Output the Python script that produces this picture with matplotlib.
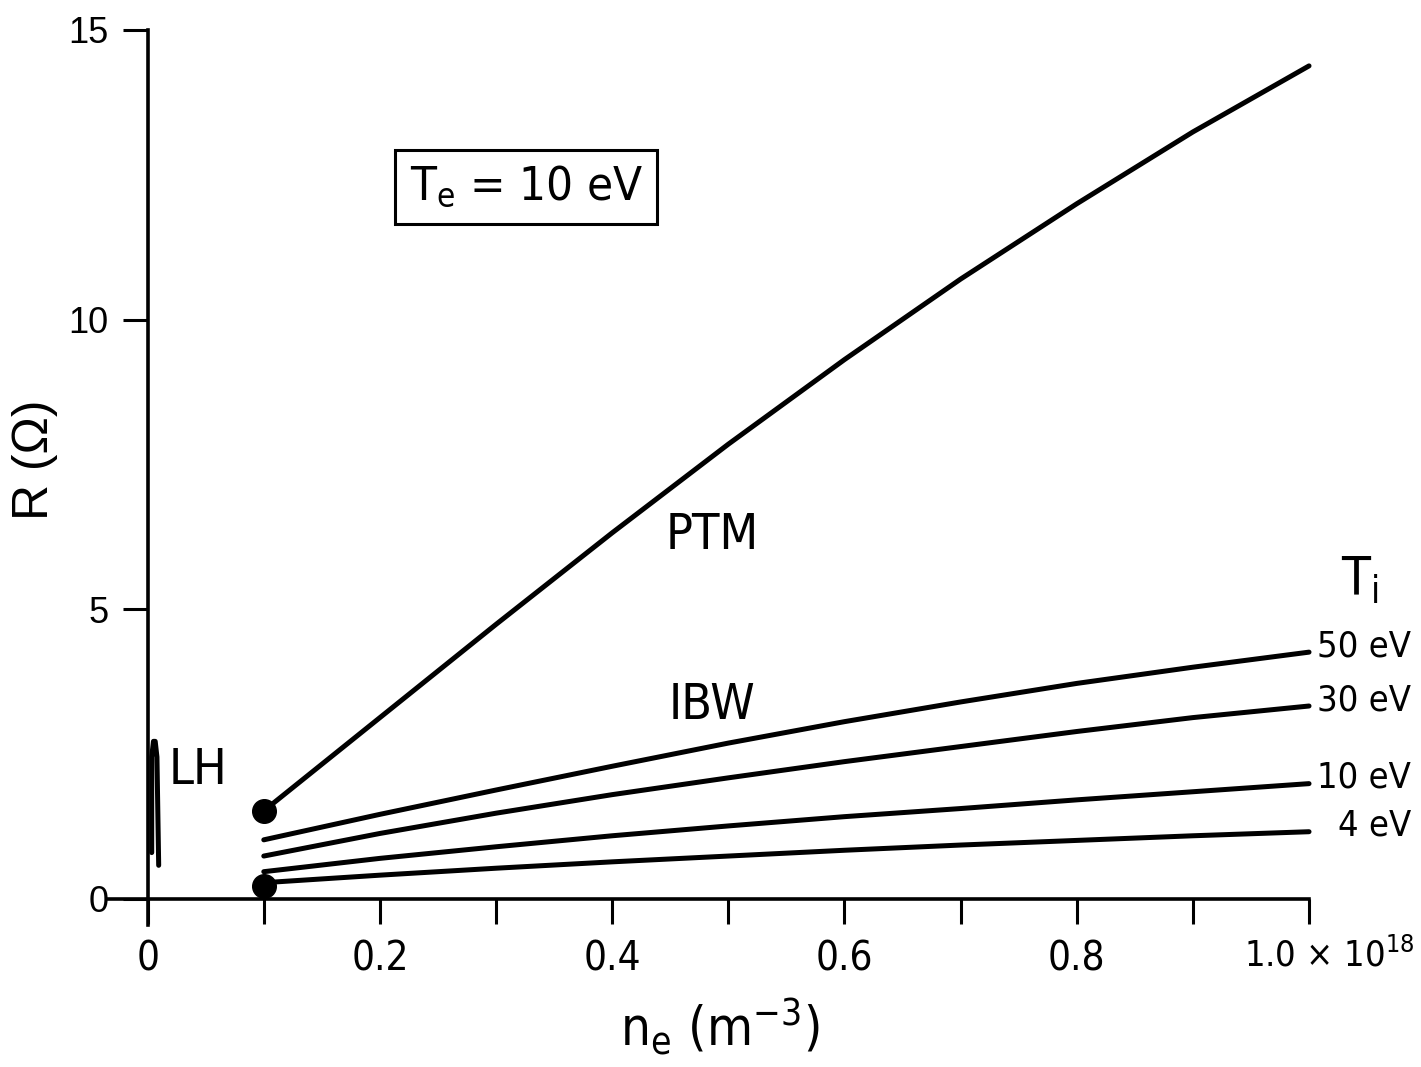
import matplotlib
matplotlib.use("Agg")
import matplotlib.pyplot as plt
import matplotlib.transforms as mtransforms

plt.rcParams['font.family'] = ['DejaVu Sans']
plt.rcParams['font.stretch'] = 'condensed'
plt.rcParams['mathtext.default'] = 'regular'

# values (n_e in 1e18 m^-3, R in ohm)
ne = [0.1, 0.2, 0.3, 0.4, 0.5, 0.6, 0.7, 0.8, 0.9, 1.0]
ptm = [1.52, 3.13, 4.74, 6.32, 7.85, 9.31, 10.70, 12.00, 13.24, 14.38]
ibw_50 = [1.02, 1.46, 1.88, 2.29, 2.69, 3.06, 3.40, 3.72, 4.00, 4.26]
ibw_30 = [0.74, 1.13, 1.48, 1.80, 2.09, 2.37, 2.63, 2.89, 3.13, 3.33]
ibw_10 = [0.47, 0.70, 0.90, 1.09, 1.26, 1.42, 1.56, 1.71, 1.85, 1.99]
ibw_4 = [0.28, 0.41, 0.53, 0.64, 0.74, 0.84, 0.93, 1.01, 1.09, 1.16]
ti_labels = ["50 eV", "30 eV", "10 eV", "4 eV"]

lh_x = [0.0035, 0.0035, 0.005, 0.0065, 0.008, 0.0095]
lh_y = [0.80, 2.45, 2.72, 2.72, 2.45, 0.58]

dot_x = [0.1, 0.1]
dot_y = [1.52, 0.22]

xticks = [0, 0.1, 0.2, 0.3, 0.4, 0.5, 0.6, 0.7, 0.8, 0.9, 1.0]
xticklabels = ["0", "", "0.2", "", "0.4", "", "0.6", "", "0.8", "", ""]
yticks = [0, 5, 10, 15]

fig = plt.figure(figsize=(14.21, 10.67), dpi=100)
ax = fig.add_axes([0.0753, 0.1331, 0.8459, 0.8388])
ax.set_xlim(-0.035, 1.0)
ax.set_ylim(-0.45, 15)

lw = 3.6
ax.plot(ne, ptm, color='black', lw=lw, solid_capstyle='round', clip_on=False)
for ys in [ibw_50, ibw_30, ibw_10, ibw_4]:
    ax.plot(ne, ys, color='black', lw=lw, solid_capstyle='round', clip_on=False)
ax.plot(lh_x, lh_y, color='black', lw=3.6, solid_capstyle='round', solid_joinstyle='round')
ax.plot(dot_x, dot_y, 'o', color='black', markersize=17, clip_on=False)

for s in ['top', 'right']:
    ax.spines[s].set_visible(False)
ax.spines['left'].set_position(('data', 0))
ax.spines['bottom'].set_position(('data', 0))
ax.spines['left'].set_bounds(-0.45, 15)
ax.spines['bottom'].set_bounds(-0.035, 1.0)
for s in ['left', 'bottom']:
    ax.spines[s].set_linewidth(2.6)

ax.set_xticks(xticks)
ax.set_xticklabels(xticklabels)
ax.set_yticks(yticks)
ax.set_yticklabels([str(v) for v in yticks], family='Liberation Sans', stretch='normal')
ax.tick_params(axis='x', direction='out', length=18, width=2.2, pad=11, labelsize=29)
ax.tick_params(axis='y', direction='out', length=18, width=2.2, pad=10, labelsize=26)

# "1.0 x 10^18" at the last tick
trans = mtransforms.blended_transform_factory(ax.transData, ax.transAxes)
ax.text(0.944, -0.034, "1.0 \u00d7 10$^{18}$", transform=trans, ha='left', va='center',
        fontsize=26, clip_on=False)

ax.set_xlabel("n$_e$ (m$^{-3}$)", fontsize=38, va='center')
ax.xaxis.set_label_coords(0.51, -0.112)
ax.set_ylabel("R (\u03a9)", fontsize=36, va='center', family='Liberation Sans', stretch='normal')
ax.yaxis.set_label_coords(-0.06, 0.52)

ax.text(0.486, 6.28, "PTM", fontsize=36, ha='center', va='center')
ax.text(0.486, 3.35, "IBW", fontsize=36, ha='center', va='center')
ax.text(0.043, 2.23, "LH", fontsize=36, ha='center', va='center')
ax.text(0.326, 12.29, "T$_e$ = 10 eV", fontsize=34, ha='center', va='center',
        bbox=dict(boxstyle='square,pad=0.3', facecolor='white', edgecolor='black', linewidth=2.2))

ax.text(1.044, 5.5, "T$_i$", fontsize=38, ha='center', va='center', clip_on=False)
for lbl, ys in zip(ti_labels, [ibw_50, ibw_30, ibw_10, ibw_4]):
    ax.text(1.088, ys[-1] + 0.1, lbl, fontsize=26, ha='right', va='center', clip_on=False)

fig.savefig("out.png", dpi=100)
